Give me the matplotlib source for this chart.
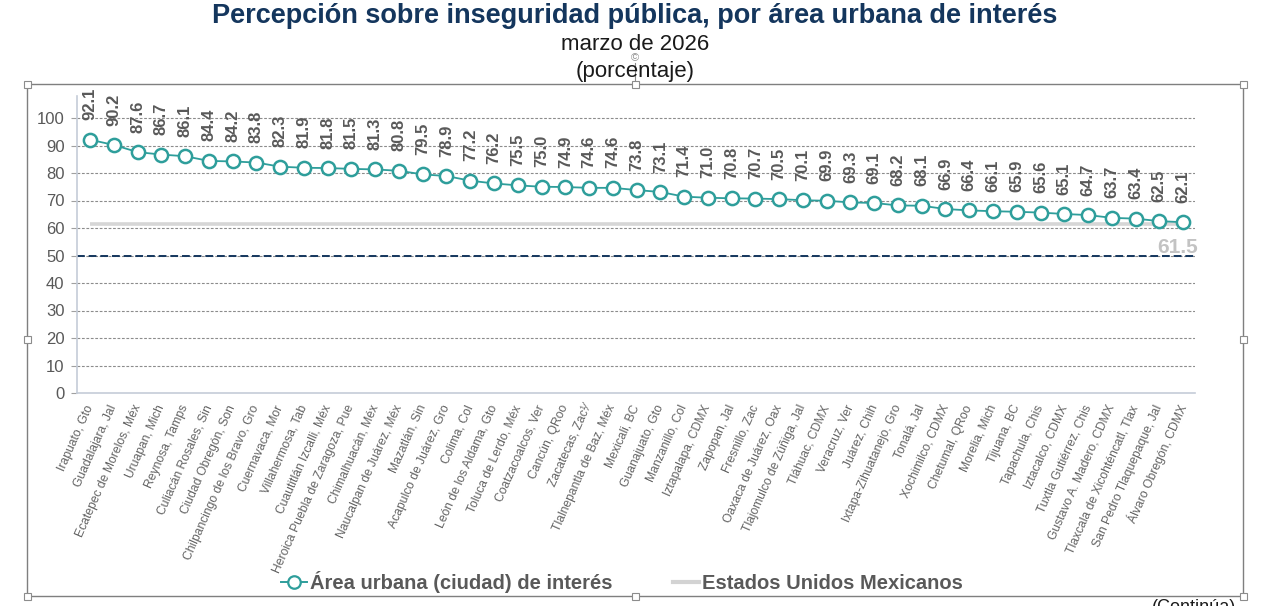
import matplotlib
matplotlib.use("Agg")
import matplotlib.pyplot as plt
from matplotlib.patches import Rectangle
from matplotlib.lines import Line2D
from matplotlib import font_manager

plt.rcParams['font.family'] = ['Liberation Sans', 'DejaVu Sans']

cities = [
    "Irapuato, Gto", "Guadalajara, Jal", "Ecatepec de Morelos, Méx", "Uruapan, Mich",
    "Reynosa, Tamps", "Culiacán Rosales, Sin", "Ciudad Obregón, Son",
    "Chilpancingo de los Bravo, Gro", "Cuernavaca, Mor", "Villahermosa, Tab",
    "Cuautitlán Izcalli, Méx", "Heroica Puebla de Zaragoza, Pue", "Chimalhuacán, Méx",
    "Naucalpan de Juárez, Méx", "Mazatlán, Sin", "Acapulco de Juárez, Gro", "Colima, Col",
    "León de los Aldama, Gto", "Toluca de Lerdo, Méx", "Coatzacoalcos, Ver", "Cancún, QRoo",
    "Zacatecas, Zac¹⁄", "Tlalnepantla de Baz, Méx", "Mexicali, BC", "Guanajuato, Gto",
    "Manzanillo, Col", "Iztapalapa, CDMX", "Zapopan, Jal", "Fresnillo, Zac",
    "Oaxaca de Juárez, Oax", "Tlajomulco de Zúñiga, Jal", "Tláhuac, CDMX", "Veracruz, Ver",
    "Juárez, Chih", "Ixtapa-Zihuatanejo, Gro", "Tonalá, Jal", "Xochimilco, CDMX",
    "Chetumal, QRoo", "Morelia, Mich", "Tijuana, BC", "Tapachula, Chis", "Iztacalco, CDMX",
    "Tuxtla Gutiérrez, Chis", "Gustavo A. Madero, CDMX", "Tlaxcala de Xicohténcatl, Tlax",
    "San Pedro Tlaquepaque, Jal", "Álvaro Obregón, CDMX",
]
values = [
    92.1, 90.2, 87.6, 86.7, 86.1, 84.4, 84.2, 83.8, 82.3, 81.9, 81.8, 81.5, 81.3, 80.8,
    79.5, 78.9, 77.2, 76.2, 75.5, 75.0, 74.9, 74.6, 74.6, 73.8, 73.1, 71.4, 71.0, 70.8,
    70.7, 70.5, 70.1, 69.9, 69.3, 69.1, 68.2, 68.1, 66.9, 66.4, 66.1, 65.9, 65.6, 65.1,
    64.7, 63.7, 63.4, 62.5, 62.1,
]
national = 61.5
reference_line = 50
yticks = [0, 10, 20, 30, 40, 50, 60, 70, 80, 90, 100]

title = "Percepción sobre inseguridad pública, por área urbana de interés"
subtitle1 = "marzo de 2026"
subtitle2 = "(porcentaje)"
legend_labels = ["Área urbana (ciudad) de interés", "Estados Unidos Mexicanos"]

TEAL = "#2E9E9B"
NAVY = "#14365D"
GRAY_TXT = "#595959"

# narrow font for data labels if available
try:
    font_manager.findfont(font_manager.FontProperties(family="Liberation Sans Narrow",
                                                      weight="bold"),
                          fallback_to_default=False)
    label_family = ["Liberation Sans Narrow", "Liberation Sans"]
    label_size = 14.5
except Exception:
    label_family = ["Liberation Sans", "DejaVu Sans"]
    label_size = 12

W, H = 1273, 606
fig = plt.figure(figsize=(W / 100, H / 100), dpi=100)

left, right, bottom, top = 77, 1195, 393, 96
ax = fig.add_axes([left / W, 1 - bottom / H, (right - left) / W, (bottom - top) / H])

n = len(values)
x = list(range(n))

ax.set_xlim(-0.55, n - 1 + 0.5)
ax.set_ylim(0, 108)

for yv in yticks[1:]:
    ax.axhline(yv, color="#8C8C8C", lw=0.8, ls=(0, (2.5, 1.5)), zorder=1)

ax.axhline(reference_line, color=NAVY, lw=1.4, ls=(0, (4, 2)), zorder=2)

ax.plot([x[0], x[-1]], [national, national], color="#D6D6D6", lw=2.6,
        solid_capstyle="butt", zorder=3)

ax.plot(x, values, color=TEAL, lw=1.3, marker="o", ms=9.5, mfc="white",
        mec=TEAL, mew=1.8, zorder=4)

for xi, v in zip(x, values):
    ax.annotate(f"{v:.1f}", (xi, v), xytext=(0, 14), textcoords="offset points",
                rotation=90, ha="center", va="bottom", fontsize=label_size,
                fontweight="bold", color=GRAY_TXT, family=label_family, zorder=5)

ax.annotate(f"{national:.1f}", (x[-1], national), xytext=(11, -10),
            textcoords="offset points", ha="right", va="top", fontsize=15,
            fontweight="bold", color="#C3C3C3")

ax.set_yticks(yticks)
ax.set_yticklabels([str(t) for t in yticks])
ax.tick_params(axis="y", length=4, width=0.8, color="#A0A0A0", labelsize=12,
               labelcolor=GRAY_TXT, pad=5)
ax.set_xticks(x)
ax.set_xticklabels(cities, rotation=66, ha="right", va="center",
                   rotation_mode="anchor", fontsize=8.7, color="#636363")
ax.tick_params(axis="x", length=0, pad=9)

for s in ["top", "right"]:
    ax.spines[s].set_visible(False)
for s in ["left", "bottom"]:
    ax.spines[s].set_color("#C5CCD8")
    ax.spines[s].set_linewidth(1.2)

fig.text(635 / W, 1 - 16 / H, title, ha="center", va="center", fontsize=19.5,
         fontweight="bold", color=NAVY)
fig.text(635 / W, 1 - 45 / H, subtitle1, ha="center", va="center", fontsize=16,
         color="#1A1A1A")
fig.text(635 / W, 1 - 72 / H, subtitle2, ha="center", va="center", fontsize=16,
         color="#1A1A1A")

handles = [
    Line2D([], [], color=TEAL, lw=1.4, marker="o", ms=9, mfc="white", mec=TEAL, mew=1.6),
    Line2D([], [], color="#D3D3D3", lw=3),
]
leg = fig.legend(handles, legend_labels, loc="center", bbox_to_anchor=(622 / W, 1 - 582 / H),
                 ncol=2, frameon=False, handlelength=1.3, handletextpad=0.15,
                 columnspacing=3.0, prop={"weight": "bold", "size": 14.5})
for t in leg.get_texts():
    t.set_color(GRAY_TXT)

fx0, fy0, fx1, fy1 = 27, 84, 1243, 596
fig.add_artist(Rectangle((fx0 / W, 1 - fy1 / H), (fx1 - fx0) / W, (fy1 - fy0) / H,
                         transform=fig.transFigure, fill=False, ec="#7F7F7F", lw=1.0,
                         zorder=0))
hs = 7
fxm, fym = (fx0 + fx1) / 2, (fy0 + fy1) / 2
for hx, hy in [(fx0, fy0), (fxm, fy0), (fx1, fy0), (fx0, fym), (fx1, fym),
               (fx0, fy1), (fxm, fy1), (fx1, fy1)]:
    fig.add_artist(Rectangle(((hx - hs / 2) / W, 1 - (hy + hs / 2) / H), hs / W, hs / H,
                             transform=fig.transFigure, fc="white", ec="#8C8C8C",
                             lw=0.8, zorder=10))
fig.add_artist(Line2D([fxm / W, fxm / W], [1 - fy0 / H, 1 - 63 / H],
                      transform=fig.transFigure, color="#8C8C8C", lw=0.8))
fig.text(fxm / W, 1 - 58 / H, "©", ha="center", va="center", fontsize=8,
         color="#8C8C8C")

fig.text(1236 / W, 1 - 608 / H, "(Continúa)", ha="right", va="center", fontsize=13,
         color="#1A1A1A")

fig.savefig("out.png", dpi=100)
